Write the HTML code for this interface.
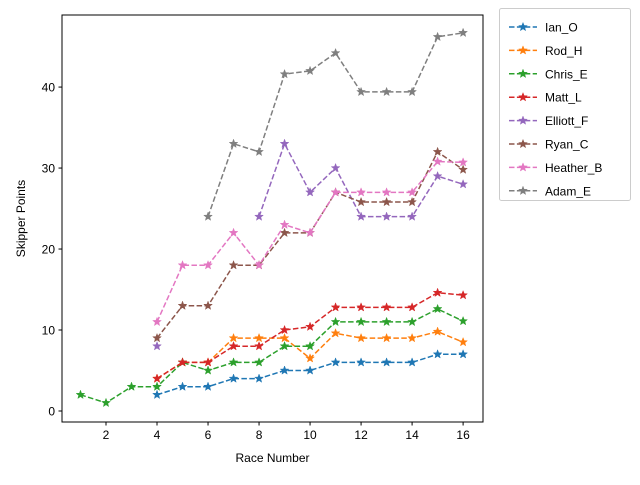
<!DOCTYPE html>
<html><head><meta charset="utf-8"><style>
body{margin:0;background:#fff;}
text{font-family:"Liberation Sans","DejaVu Sans",sans-serif;}
</style></head><body>
<svg id="c" width="640" height="480" xmlns="http://www.w3.org/2000/svg"></svg>
<script>
const races=[1,2,3,4,5,6,7,8,9,10,11,12,13,14,15,16];
const seriesNames=["Ian_O","Rod_H","Chris_E","Matt_L","Elliott_F","Ryan_C","Heather_B","Adam_E"];
const colors=["#1f77b4","#ff7f0e","#2ca02c","#d62728","#9467bd","#8c564b","#e377c2","#7f7f7f"];
const N=null;
const ianO=[N,N,N,2,3,3,4,4,5,5,6,6,6,6,7,7];
const rodH=[N,N,N,4,6,6,9,9,9,6.5,9.6,9,9,9,9.8,8.5];
const chrisE=[2,1,3,3,6,5,6,6,8,8,11,11,11,11,12.6,11.1];
const mattL=[N,N,N,4,6,6,8,8,10,10.4,12.8,12.8,12.8,12.8,14.6,14.3];
const elliottF=[N,N,N,8,N,N,N,24,33,27,30,24,24,24,29,28];
const ryanC=[N,N,N,9,13,13,18,18,22,22,27,25.8,25.8,25.8,32,29.8];
const heatherB=[N,N,N,11,18,18,22,18,23,22,27,27,27,27,30.8,30.7];
const adamE=[N,N,N,N,N,24,33,32,41.6,42,44.2,39.4,39.4,39.4,46.2,46.7];
const xTicks=[2,4,6,8,10,12,14,16];
const yTicks=[0,10,20,30,40];
const allSeries=[ianO,rodH,chrisE,mattL,elliottF,ryanC,heatherB,adamE];

const svg=document.getElementById('c');
const NS="http://www.w3.org/2000/svg";
const L=62,R=483,T=15,B=422;
const xmin=0.275,xmax=16.78,ymin=-1.36,ymax=48.9;
const sx=v=>L+(v-xmin)/(xmax-xmin)*(R-L);
const sy=v=>B-(v-ymin)/(ymax-ymin)*(B-T);
function el(tag,attrs,parent){const e=document.createElementNS(NS,tag);for(const k in attrs)e.setAttribute(k,attrs[k]);(parent||svg).appendChild(e);return e;}
function star(cx,cy,r){let p=[];for(let i=0;i<10;i++){const a=-Math.PI/2+i*Math.PI/5;const rr=i%2?r*0.42:r;p.push((cx+rr*Math.cos(a)).toFixed(2)+","+(cy+rr*Math.sin(a)).toFixed(2));}return p.join(" ");}

const frame=el('rect',{x:L,y:T,width:R-L,height:B-T,fill:'#fff',stroke:'#000','stroke-width':1});



xTicks.forEach(t=>{
  const x=sx(t);
  const ln=el('line',{x1:x,x2:x,y1:B,y2:B+3.5,stroke:'#000'});
  
  
  const tx=el('text',{x:x,y:B+17,'font-size':12,'text-anchor':'middle'});
  tx.textContent=t;
  
  
});
yTicks.forEach(t=>{
  const y=sy(t);
  const ln=el('line',{x1:L-3.5,x2:L,y1:y,y2:y,stroke:'#000'});
  
  
  const tx=el('text',{x:L-7,y:y+4.5,'font-size':12,'text-anchor':'end'});
  tx.textContent=t;
  
  
});
const xt=el('text',{x:(L+R)/2,y:462,'font-size':12,'text-anchor':'middle'});
xt.textContent='Race Number';


const yt=el('text',{x:0,y:0,'font-size':12,'text-anchor':'middle',transform:`translate(25,${(T+B)/2}) rotate(-90)`});
yt.textContent='Skipper Points';



allSeries.forEach((s,i)=>{
  const g=el('g',{});
  
  
  let segs=[],cur=[];
  s.forEach((v,j)=>{if(v===null){if(cur.length)segs.push(cur);cur=[];}else cur.push([sx(races[j]),sy(v)]);});
  if(cur.length)segs.push(cur);
  segs.forEach(sg=>{if(sg.length>1){const pl=el('polyline',{points:sg.map(p=>p.join(',')).join(' '),fill:'none',stroke:colors[i],'stroke-width':1.5,'stroke-dasharray':'5.5,2.4'},g);}});
  s.forEach((v,j)=>{if(v===null)return;const m=el('polygon',{points:star(sx(races[j]),sy(v),4.5),fill:colors[i],stroke:colors[i],'stroke-width':0.5},g);});
});

const lg=el('g',{});


const lb=el('rect',{x:499.5,y:8.5,width:131,height:192,rx:2,fill:'#fff',stroke:'#ccc'},lg);


seriesNames.forEach((n,i)=>{
  const y=27+i*23.4;
  const e=el('g',{},lg);
  
  
  el('line',{x1:509,x2:537,y1:y,y2:y,stroke:colors[i],'stroke-width':1.5,'stroke-dasharray':'5.5,2.4'},e);
  el('polygon',{points:star(523,y,4.5),fill:colors[i],stroke:colors[i],'stroke-width':0.5},e);
  const t=el('text',{x:545,y:y+4.5,'font-size':12},e);
  t.textContent=n;
});
</script>
</body></html>
